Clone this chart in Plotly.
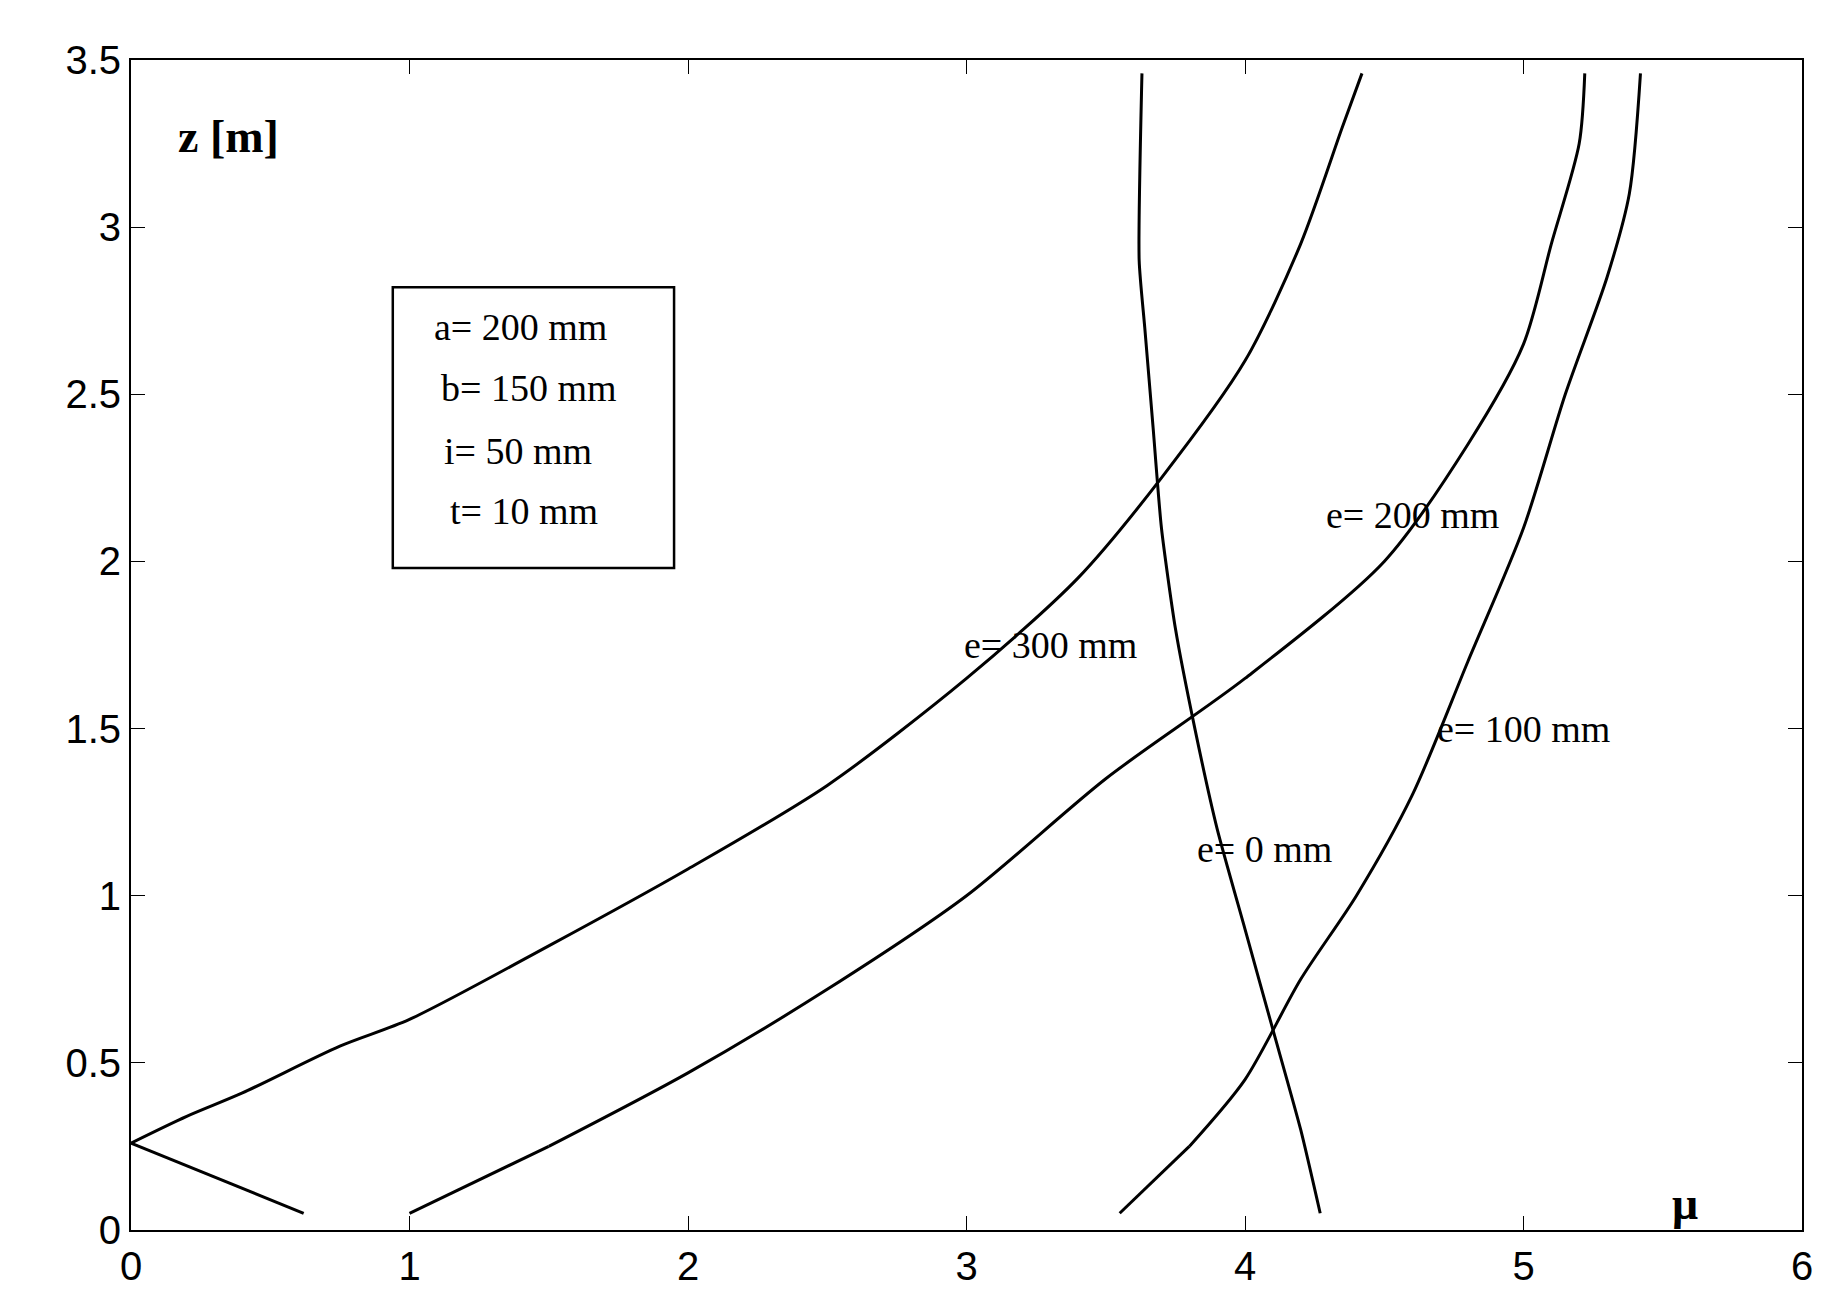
import plotly.graph_objects as go

mu_300 = [0.62, 0.0, 0.2, 0.4, 0.75, 1.0, 1.5, 2.0, 2.5, 3.0, 3.4, 3.7, 4.0, 4.2, 4.35, 4.42]
z_300 = [0.05, 0.26, 0.34, 0.41, 0.55, 0.63, 0.85, 1.08, 1.33, 1.65, 1.95, 2.25, 2.6, 2.95, 3.3, 3.46]

mu_200 = [1.0, 1.5, 2.0, 2.5, 3.0, 3.5, 4.0, 4.5, 4.8, 5.0, 5.1, 5.2, 5.22]
z_200 = [0.05, 0.25, 0.47, 0.72, 1.0, 1.35, 1.65, 2.0, 2.35, 2.65, 2.95, 3.25, 3.46]

mu_100 = [3.55, 3.8, 4.0, 4.2, 4.4, 4.6, 4.8, 5.0, 5.15, 5.3, 5.38, 5.42]
z_100 = [0.05, 0.25, 0.45, 0.75, 1.0, 1.3, 1.7, 2.1, 2.5, 2.85, 3.1, 3.46]

mu_0 = [4.27, 4.2, 4.1, 4.0, 3.9, 3.82, 3.75, 3.7, 3.67, 3.64, 3.62, 3.63]
z_0 = [0.05, 0.3, 0.6, 0.9, 1.2, 1.5, 1.8, 2.1, 2.4, 2.7, 2.9, 3.46]

labels = ["e= 300 mm", "e= 200 mm", "e= 100 mm", "e= 0 mm"]
label_x = [3.3, 4.6, 5.0, 4.07]
label_y = [1.75, 2.14, 1.5, 1.14]

box_lines = ["a= 200 mm", "b= 150 mm", "i= 50 mm", "t= 10 mm"]
box_x = [1.4, 1.43, 1.39, 1.41]
box_y = [2.7, 2.52, 2.33, 2.15]

fig = go.Figure()
for xs, ys in [(mu_300, z_300), (mu_200, z_200), (mu_100, z_100)]:
    fig.add_trace(go.Scatter(x=xs[1:], y=ys[1:], mode="lines",
                             line=dict(color="black", width=3, shape="spline", smoothing=0.8),
                             showlegend=False))
    fig.add_trace(go.Scatter(x=xs[:2], y=ys[:2], mode="lines",
                             line=dict(color="black", width=3), showlegend=False))
fig.add_trace(go.Scatter(x=mu_0, y=z_0, mode="lines",
                         line=dict(color="black", width=3, shape="spline", smoothing=0.6),
                         showlegend=False))

serif = dict(family="Liberation Serif", size=38, color="black")
for t, x, y in zip(labels, label_x, label_y):
    fig.add_annotation(x=x, y=y, text=t, showarrow=False, font=serif)
for t, x, y in zip(box_lines, box_x, box_y):
    fig.add_annotation(x=x, y=y, text=t, showarrow=False, font=serif)
fig.add_shape(type="rect", x0=0.94, x1=1.95, y0=1.98, y1=2.82, line=dict(color="black", width=2.5))
fig.add_annotation(x=0.35, y=3.27, text="<b>z [m]</b>", showarrow=False,
                   font=dict(family="Liberation Serif", size=46, color="black"))
fig.add_annotation(x=5.58, y=0.08, text="<b>μ</b>", showarrow=False,
                   font=dict(family="Liberation Serif", size=46, color="black"))

axis = dict(showgrid=False, zeroline=False, showline=True, linecolor="black", linewidth=2,
            mirror="ticks", ticks="inside", ticklen=14, tickcolor="black",
            tickfont=dict(family="Liberation Sans", size=40, color="black"))
fig.update_xaxes(range=[0, 6], dtick=1, **axis)
fig.update_yaxes(range=[0, 3.5], dtick=0.5, **axis)
fig.update_layout(width=1833, height=1304, plot_bgcolor="white", paper_bgcolor="white",
                  margin=dict(l=123, r=39, t=52, b=82))
fig.write_html("out.html")
